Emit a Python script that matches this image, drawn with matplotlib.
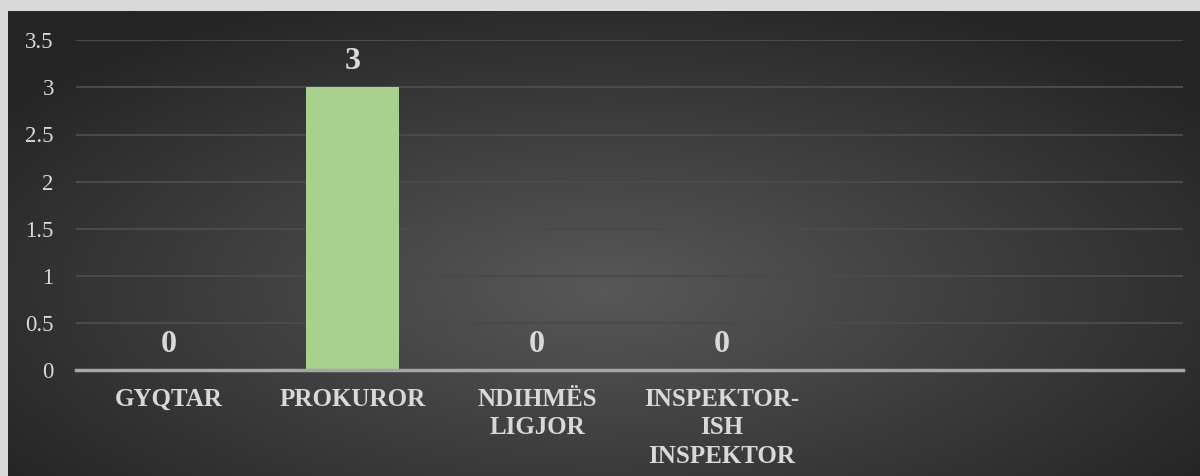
import numpy as np
import matplotlib.pyplot as plt

# data
categories = ['GYQTAR', 'PROKUROR', 'NDIHMËS\nLIGJOR', 'INSPEKTOR-\nISH\nINSPEKTOR']
values = [0, 3, 0, 0]
n_slots = 6  # the axis leaves room for two more (empty) categories
yticks = [0, 0.5, 1, 1.5, 2, 2.5, 3, 3.5]

txt = '#d9d9d9'
plt.rcParams['font.family'] = ['Liberation Serif', 'DejaVu Serif']

fig = plt.figure(figsize=(12, 4.76), dpi=100)
fig.patch.set_facecolor('#d9d9d9')

# dark panel with a radial gradient
bg = fig.add_axes([8 / 1200, 0, 1 - 8 / 1200, 1 - 11 / 476])
bg.set_axis_off()
yy, xx = np.mgrid[-1:1:300j, -1:1:600j]
r = np.sqrt((xx / 1.0) ** 2 + ((yy + 0.2) / 1.1) ** 2)
r = np.clip(r / 1.25, 0, 1)
c0, c1 = 0x58 / 255, 0x25 / 255
img = c0 + (c1 - c0) * r
bg.imshow(np.dstack([img, img, img]), aspect='auto', extent=[0, 1, 0, 1], origin='lower')
bg.set_xlim(0, 1)
bg.set_ylim(0, 1)

ax = fig.add_axes([76 / 1200, 1 - 370 / 476, (1183 - 76) / 1200, (370 - 40.3) / 476])
ax.patch.set_alpha(0)
x = np.arange(len(categories))
bars = ax.bar(x, values, width=0.505, color='#a9d18e', zorder=3)

for xi, v in zip(x, values):
    ax.annotate(f'{v:g}', (xi, v), xytext=(0, 13), textcoords='offset points',
                ha='center', va='baseline', fontsize=23, fontweight='bold', color=txt)

ax.set_xlim(-0.5, n_slots - 0.5)
ax.set_ylim(0, 3.5)
ax.set_yticks(yticks)
ax.set_yticklabels([f'{t:g}' for t in yticks])
ax.set_xticks(x)
ax.set_xticklabels(categories, fontweight='bold', fontsize=18, color=txt, linespacing=1.3)
ax.tick_params(axis='y', length=0, pad=16, labelsize=16.5, labelcolor=txt)
ax.tick_params(axis='x', length=0, pad=13)

ax.grid(axis='y', color='#4a4a4a', linewidth=1.5, zorder=0)
for s in ['top', 'right', 'left']:
    ax.spines[s].set_visible(False)
ax.spines['bottom'].set_color('#a6a6a6')
ax.spines['bottom'].set_linewidth(2.5)
ax.spines['bottom'].set_zorder(4)

fig.savefig('out.png', dpi=100, facecolor=fig.get_facecolor())
